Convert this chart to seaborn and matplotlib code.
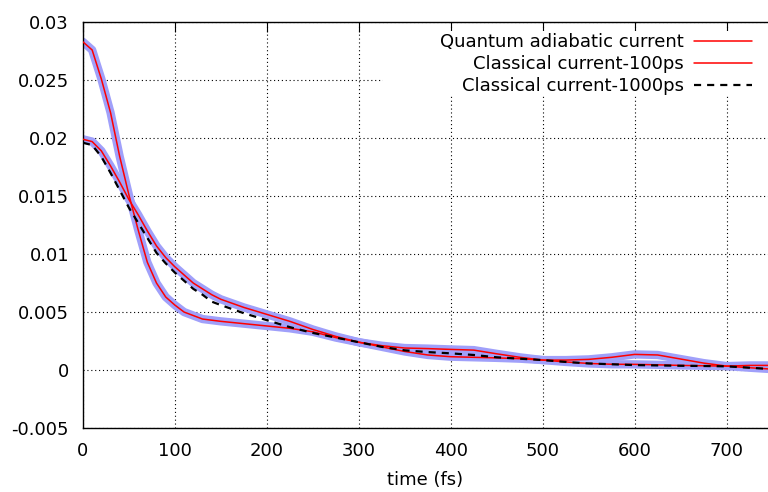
import matplotlib
matplotlib.use("Agg")
import matplotlib.pyplot as plt
import seaborn as sns
from matplotlib.lines import Line2D
from matplotlib.patches import Rectangle

# time axis (fs)
t = [0, 10, 20, 30, 40, 50, 60, 70, 80, 90, 100, 110, 120, 130, 140, 150,
     175, 200, 225, 250, 275, 300, 325, 350, 375, 400, 425, 450, 475, 500,
     525, 550, 575, 600, 625, 650, 675, 700, 725, 745]

# fast-decaying current (starts near 0.028)
cur_fast = [0.0283, 0.0276, 0.0251, 0.0222, 0.0184, 0.0151, 0.0121, 0.0093, 0.0075, 0.0063,
            0.0056, 0.0050, 0.0047, 0.0044, 0.0043, 0.0042,
            0.0040, 0.0038, 0.0036, 0.0033, 0.0028, 0.0024, 0.0020, 0.0016, 0.0013, 0.00115,
            0.0011, 0.00105, 0.00098, 0.00086,
            0.00086, 0.00092, 0.0011, 0.00135, 0.0013, 0.00095, 0.0006, 0.00034, 0.0004, 0.0004]

# slow-decaying current (starts near 0.020)
cur_slow = [0.0199, 0.0197, 0.0189, 0.0176, 0.0162, 0.0147, 0.0134, 0.0120, 0.0107, 0.0097,
            0.0089, 0.0082, 0.0075, 0.0070, 0.0065, 0.0061,
            0.0054, 0.0048, 0.0042, 0.0035, 0.0029, 0.0024, 0.0021, 0.0019, 0.00185, 0.00178,
            0.00172, 0.0014, 0.0011, 0.00086,
            0.0007, 0.00057, 0.0005, 0.00049, 0.00045, 0.0004, 0.00037, 0.00034, 0.0002, 0.0001]

# classical current, 1000 ps
cur_1000 = [0.0196, 0.0194, 0.0184, 0.0170, 0.0155, 0.0140, 0.0127, 0.0114, 0.0101, 0.0092,
            0.0084, 0.0077, 0.0070, 0.0065, 0.0059, 0.0056,
            0.0049, 0.0043, 0.0037, 0.0032, 0.0028, 0.0024, 0.0020, 0.0017, 0.00155, 0.00144,
            0.0013, 0.0011, 0.00098, 0.00086,
            0.0007, 0.00057, 0.0005, 0.00043, 0.0004, 0.00037, 0.00035, 0.00032, 0.0002, 0.0001]

labels = ["Quantum adiabatic current", "Classical current-100ps", "Classical current-1000ps"]

sns.set_style("white")
plt.rcParams['font.family'] = ['DejaVu Sans']
plt.rcParams['font.size'] = 13
plt.rcParams['text.color'] = 'black'
plt.rcParams['axes.labelcolor'] = 'black'
plt.rcParams['xtick.color'] = 'black'
plt.rcParams['ytick.color'] = 'black'

fig = plt.figure(figsize=(7.68, 4.92), dpi=100)
ax = fig.add_axes([0.108, 0.13, 0.892, 0.825])

band = '#a0a0fa'
for y in (cur_fast, cur_slow):
    sns.lineplot(x=t, y=y, ax=ax, color=band, linewidth=6, zorder=2)
for y in (cur_fast, cur_slow):
    sns.lineplot(x=t, y=y, ax=ax, color='red', linewidth=1.1, zorder=3)
sns.lineplot(x=t, y=cur_1000, ax=ax, color='black', linewidth=1.6,
             linestyle=(0, (3.2, 2.7)), zorder=4)

ax.set_xlim(0, 745)
ax.set_ylim(-0.005, 0.03)
ax.set_xticks(range(0, 701, 100))
ax.set_yticks([-0.005, 0, 0.005, 0.01, 0.015, 0.02, 0.025, 0.03])
ax.set_yticklabels(['-0.005', '0', '0.005', '0.01', '0.015', '0.02', '0.025', '0.03'])
ax.set_xlabel("time (fs)", labelpad=8, color='black')
ax.set_ylabel("")

ax.set_axisbelow(True)
ax.grid(True, color='black', linestyle=(0, (1, 2.5)), linewidth=0.8)
ax.tick_params(direction='in', length=7, width=0.8, top=True, right=False,
               pad=10, colors='black', labelcolor='black')
for s in ['left', 'bottom', 'top']:
    ax.spines[s].set_color('black')
    ax.spines[s].set_linewidth(1.0)
ax.spines['right'].set_visible(False)

# white key box over the grid
ax.add_patch(Rectangle((0.438, 0.82), 0.562, 0.158, transform=ax.transAxes,
                       facecolor='white', edgecolor='none', zorder=1))

handles = [Line2D([], [], color='red', lw=1.1),
           Line2D([], [], color='red', lw=1.1),
           Line2D([], [], color='black', lw=1.6, linestyle=(0, (3.2, 2.7)))]
leg = ax.legend(handles, labels, loc='upper right', bbox_to_anchor=(0.977, 0.973),
                frameon=False, markerfirst=False, borderpad=0, borderaxespad=0,
                handlelength=3.2, handletextpad=0.6, labelspacing=0.22, fontsize=13)
for txt in leg.get_texts():
    txt.set_color('black')

fig.savefig("out.png", dpi=100)
